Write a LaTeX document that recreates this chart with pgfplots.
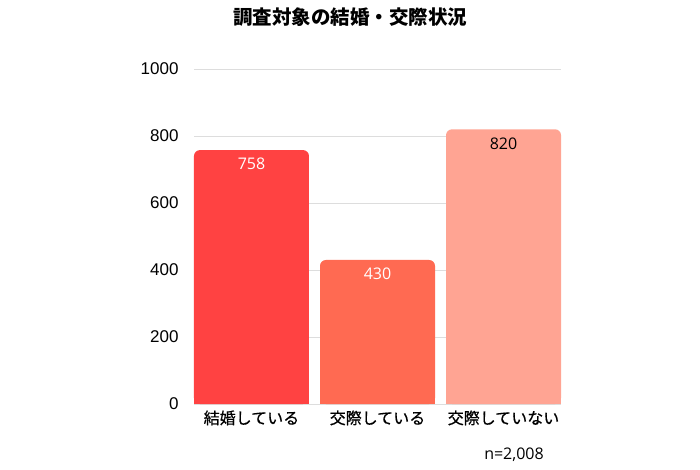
\documentclass[border=0pt]{standalone}
\usepackage{pgfplots}
\pgfplotsset{compat=1.18}
\usepackage{fontspec}
\setmainfont{Noto Sans CJK JP}
\newfontfamily\jp{Noto Sans CJK JP}
\newfontfamily\jpm{Noto Sans CJK JP}[FakeBold=0.6]
\newfontfamily\os{Open Sans}
\newfontfamily\lib{Liberation Sans}
\definecolor{cA}{HTML}{FF4242}
\definecolor{cB}{HTML}{FF6A52}
\definecolor{cC}{HTML}{FFA493}
\definecolor{gridc}{HTML}{DDDDDD}
\begin{document}
\begin{tikzpicture}[x=1pt,y=1pt]
\useasboundingbox (0,0) rectangle (700,469);
\node[font=\jp\fontsize{19.5}{21}\selectfont\bfseries] at (350,452) {調査対象の結婚・交際状況};
\node[font=\os\fontsize{16}{18}\selectfont] at (514,14) {n=2,008};
\begin{axis}[
  at={(194pt,65pt)}, anchor=south west,
  scale only axis, width=367pt, height=335pt,
  xmin=-0.456, xmax=2.456, ymin=0, ymax=1000,
  ytick={0,200,400,600,800,1000},
  xtick={0,1,2},
  xticklabels={結婚している,交際している,交際していない},
  axis line style={draw=none},
  major tick length=0pt,
  ymajorgrids, grid style={gridc, line width=0.8pt},
  /pgf/number format/assume math mode=true,
  /pgf/number format/1000 sep={},
  yticklabel style={font=\lib\fontsize{17}{19}\selectfont, xshift=-12pt},
  xticklabel style={font=\jpm\fontsize{16}{18}\selectfont, yshift=-3pt},
  ybar, bar width=115pt, bar shift=0pt,
  nodes near coords,
  every node near coord/.append style={font=\os\fontsize{16}{18}\selectfont, anchor=center, yshift=-14pt},
  clip=false,
]
\addplot[fill=cA, draw=none, rounded corners=6pt, nodes near coords style={text=white}] coordinates {(0,758)};
\addplot[fill=cB, draw=none, rounded corners=6pt, nodes near coords style={text=white}] coordinates {(1,430)};
\addplot[fill=cC, draw=none, rounded corners=6pt, nodes near coords style={text=black}] coordinates {(2,820)};
\addplot[fill=cA, draw=none, nodes near coords=\empty] coordinates {(0,730)};
\addplot[fill=cB, draw=none, nodes near coords=\empty] coordinates {(1,400)};
\addplot[fill=cC, draw=none, nodes near coords=\empty] coordinates {(2,790)};
\end{axis}
\end{tikzpicture}
\end{document}
